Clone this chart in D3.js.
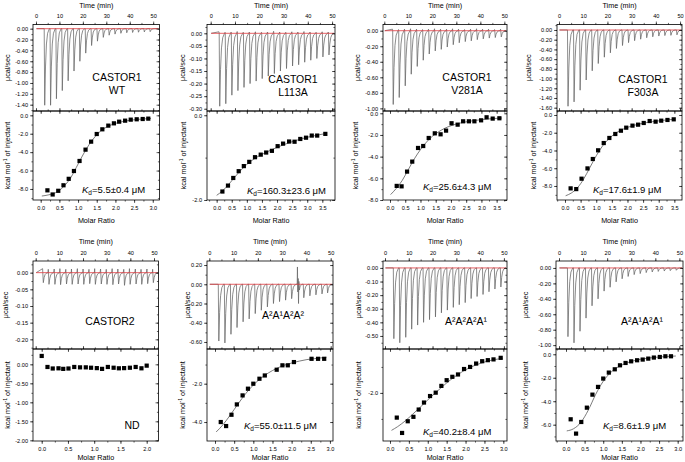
<!DOCTYPE html>
<html><head><meta charset="utf-8">
<script src="https://cdn.jsdelivr.net/npm/d3@7"></script>
<style>body{margin:0;background:#fff}svg{display:block;font-family:"Liberation Sans",Arial,sans-serif}</style>
</head><body><svg id="c" width="685" height="462"></svg>
<script>
// ---------------- DATA ----------------
const timeTicks = [0, 10, 20, 30, 40, 50];
const injTimes = [3.5,6.0,8.5,11.0,13.5,16.0,18.5,21.0,23.5,26.0,28.5,31.0,33.5,36.0,38.5,41.0,43.5,46.0,48.5];
const injTimesC2 = [3.0,5.4,7.9,10.3,12.8,15.2,17.7,20.1,22.6,25.0,27.5,29.9,32.4,34.8,37.3,39.7,42.2,44.6,47.1,49.5];
const injTimesA2A1A2A2 = [3.7,6.2,8.7,11.2,13.7,16.2,18.7,21.2,23.7,26.2,28.7,31.2,33.7,36.2,38.7,41.2,43.7,46.2,48.5];

const panelNames = [["CASTOR1","WT"],["CASTOR1","L113A"],["CASTOR1","V281A"],["CASTOR1","F303A"],["CASTOR2"],["A²A¹A²A²"],["A²A²A²A¹"],["A²A¹A²A¹"]];
const kdTexts = ["=5.5±0.4 μM","=160.3±23.6 μM","=25.6±4.3 μM","=17.6±1.9 μM",null,"=55.0±11.5 μM","=40.2±8.4 μM","=8.6±1.9 μM"];

// raw thermogram peak minima (µcal/sec)
const peaksWT    = [-1.41,-1.41,-1.29,-1.14,-0.96,-0.78,-0.60,-0.45,-0.31,-0.23,-0.16,-0.12,-0.10,-0.085,-0.075,-0.07,-0.065,-0.06,-0.055];
const peaksL113A = [-0.29,-0.28,-0.246,-0.228,-0.215,-0.20,-0.19,-0.18,-0.17,-0.16,-0.15,-0.14,-0.13,-0.125,-0.115,-0.107,-0.10,-0.094,-0.086];
const peaksV281A = [-0.95,-0.86,-0.71,-0.56,-0.46,-0.38,-0.30,-0.26,-0.24,-0.21,-0.18,-0.155,-0.14,-0.13,-0.115,-0.105,-0.095,-0.088,-0.08];
const peaksF303A = [-1.57,-1.48,-1.24,-1.03,-0.84,-0.69,-0.56,-0.47,-0.38,-0.32,-0.26,-0.22,-0.19,-0.16,-0.14,-0.125,-0.115,-0.11,-0.10];
const peaksC2    = [-0.030,-0.035,-0.035,-0.036,-0.034,-0.035,-0.034,-0.035,-0.033,-0.035,-0.034,-0.035,-0.036,-0.034,-0.038,-0.035,-0.034,-0.035,-0.033,-0.030];
const peaksA2A1A2A2 = [-0.59,-0.61,-0.52,-0.45,-0.39,-0.36,-0.305,-0.27,-0.235,-0.20,-0.18,-0.165,-0.15,-0.19,-0.14,-0.12,-0.11,-0.10,-0.09];
const peaksA2A2A2A1 = [-0.52,-0.55,-0.51,-0.45,-0.42,-0.40,-0.38,-0.36,-0.33,-0.31,-0.29,-0.27,-0.255,-0.225,-0.21,-0.195,-0.175,-0.155,-0.14];
const peaksA2A1A2A1 = [-0.89,-0.97,-0.82,-0.65,-0.49,-0.40,-0.30,-0.25,-0.18,-0.14,-0.11,-0.086,-0.073,-0.06,-0.052,-0.045,-0.04,-0.035,-0.03];
// small positive blips at each injection in the noisy traces
const upL113A = [0.006,0.004,0.005,0.007,0.004,0.005,0.006,0.004,0.005,0.008,0.005,0.004,0.006,0.005,0.007,0.005,0.004,0.006,0.005];
const upV281A = [0.02,0.015,0.02,0.025,0.02,0.015,0.02,0.025,0.02,0.02,0.025,0.02,0.015,0.02,0.025,0.02,0.02,0.015,0.02];
const upC2 = [0.012,0.010,0.011,0.012,0.010,0.011,0.012,0.011,0.010,0.012,0.011,0.010,0.012,0.011,0.010,0.012,0.011,0.010,0.011,0.010];
// artefact near injection 14 of A2A1A2A2 (dt min, µcal/sec)
const glitchA2A1A2A2 = [[0,0],[0.1,0.18],[0.25,-0.08],[0.4,0.06],[0.55,-0.2],[0.7,0.03],[0.9,-0.06],[1.2,-0.02],[2.0,0]];

// integrated heats: molar ratio and kcal/mol of injectant
const ratioWT = [0.18,0.32,0.47,0.61,0.75,0.89,1.04,1.20,1.35,1.50,1.65,1.81,1.96,2.10,2.26,2.41,2.57,2.73,2.88];
const heatWT  = [-8.15,-8.6,-8.2,-7.6,-6.9,-6.05,-4.96,-3.73,-2.86,-2.03,-1.52,-1.12,-0.87,-0.69,-0.58,-0.47,-0.43,-0.40,-0.36];
const fitWT = [[0.03,-8.77],[0.2,-8.65],[0.4,-8.4],[0.6,-7.8],[0.8,-6.8],[1.0,-5.3],[1.2,-3.8],[1.4,-2.6],[1.6,-1.72],[1.8,-1.2],[2.0,-0.88],[2.2,-0.67],[2.4,-0.53],[2.6,-0.44],[2.8,-0.38],[2.95,-0.34]];

const ratioL113A = [0.19,0.375,0.55,0.73,0.90,1.08,1.27,1.46,1.64,1.83,2.02,2.20,2.40,2.58,2.77,2.96,3.15,3.33,3.60];
const heatL113A  = [-1.80,-1.66,-1.48,-1.32,-1.20,-1.10,-0.99,-0.93,-0.88,-0.84,-0.73,-0.67,-0.62,-0.625,-0.56,-0.53,-0.48,-0.48,-0.44];
const fitL113A = [[0.0,-1.89],[0.2,-1.78],[0.4,-1.63],[0.6,-1.46],[0.8,-1.30],[1.0,-1.16],[1.2,-1.05],[1.4,-0.96],[1.6,-0.89],[1.8,-0.82],[2.0,-0.76],[2.2,-0.70],[2.4,-0.65],[2.6,-0.60],[2.8,-0.56],[3.0,-0.52],[3.2,-0.49],[3.4,-0.46],[3.63,-0.43]];

const ratioV281A = [0.22,0.38,0.56,0.73,0.92,1.09,1.27,1.47,1.66,1.84,2.02,2.22,2.40,2.59,2.77,2.99,3.17,3.37,3.59];
const heatV281A  = [-6.7,-6.74,-5.38,-4.46,-3.2,-3.02,-2.28,-1.85,-1.94,-1.6,-0.92,-1.05,-0.74,-0.74,-0.74,-0.65,-0.37,-0.49,-0.46];
const fitV281A = [[0.02,-7.5],[0.2,-6.95],[0.4,-6.2],[0.6,-5.2],[0.8,-4.2],[1.0,-3.35],[1.2,-2.65],[1.4,-2.1],[1.6,-1.7],[1.8,-1.38],[2.0,-1.15],[2.2,-0.97],[2.4,-0.84],[2.6,-0.74],[2.8,-0.66],[3.0,-0.59],[3.2,-0.53],[3.4,-0.49],[3.67,-0.44]];

const ratioF303A = [0.18,0.36,0.53,0.72,0.89,1.06,1.24,1.42,1.61,1.79,1.96,2.16,2.34,2.52,2.71,2.90,3.08,3.28,3.48];
const heatF303A  = [-8.27,-8.35,-7.18,-6.02,-4.96,-3.98,-3.16,-2.59,-2.14,-1.77,-1.43,-1.2,-1.09,-0.9,-0.68,-0.75,-0.64,-0.56,-0.49];
const fitF303A = [[0.02,-9.1],[0.2,-8.8],[0.4,-8.2],[0.6,-7.2],[0.8,-5.9],[1.0,-4.6],[1.2,-3.5],[1.4,-2.7],[1.6,-2.1],[1.8,-1.7],[2.0,-1.4],[2.2,-1.17],[2.4,-1.0],[2.6,-0.86],[2.8,-0.75],[3.0,-0.66],[3.2,-0.58],[3.52,-0.47]];

const ratioC2 = [0.0,0.11,0.21,0.32,0.41,0.51,0.62,0.73,0.84,0.94,1.05,1.15,1.26,1.37,1.47,1.57,1.68,1.79,1.90,2.0];
const heatC2  = [0.22,-0.07,-0.11,-0.105,-0.12,-0.11,-0.07,-0.08,-0.08,-0.09,-0.10,-0.12,-0.07,-0.09,-0.105,-0.10,-0.09,-0.07,-0.105,-0.035];

const ratioA2A1A2A2 = [0.15,0.29,0.43,0.57,0.72,0.86,1.0,1.16,1.30,1.61,1.76,1.90,2.06,2.52,2.69,2.85];
const heatA2A1A2A2  = [-4.0,-4.21,-3.62,-3.08,-2.61,-2.26,-2.0,-1.74,-1.57,-1.27,-1.04,-1.04,-0.87,-0.70,-0.70,-0.70];
const fitA2A1A2A2 = [[0.03,-4.52],[0.2,-4.16],[0.4,-3.63],[0.6,-3.06],[0.8,-2.52],[1.0,-2.07],[1.2,-1.71],[1.4,-1.43],[1.6,-1.21],[1.8,-1.04],[2.0,-0.92],[2.2,-0.82],[2.4,-0.74],[2.6,-0.69],[2.91,-0.62]];

const ratioA2A2A2A1 = [0.18,0.32,0.47,0.62,0.76,0.90,1.06,1.21,1.36,1.50,1.65,1.80,1.96,2.12,2.28,2.44,2.59,2.74,2.93];
const heatA2A2A2A1  = [-2.95,-3.54,-3.09,-2.92,-2.64,-2.37,-2.12,-1.99,-1.73,-1.51,-1.38,-1.29,-1.08,-1.0,-0.87,-0.78,-0.74,-0.71,-0.65];
const fitA2A2A2A1 = [[0.04,-3.44],[0.2,-3.3],[0.4,-3.08],[0.6,-2.82],[0.8,-2.55],[1.0,-2.27],[1.2,-2.0],[1.4,-1.74],[1.6,-1.5],[1.8,-1.29],[2.0,-1.11],[2.2,-0.97],[2.4,-0.86],[2.6,-0.77],[2.8,-0.71],[2.98,-0.67]];

const ratioA2A1A2A1 = [0.125,0.27,0.41,0.56,0.71,0.86,1.0,1.15,1.31,1.45,1.6,1.75,1.91,2.06,2.21,2.36,2.52,2.67,2.82];
const heatA2A1A2A1  = [-5.54,-6.76,-5.77,-4.55,-3.44,-2.78,-2.07,-1.56,-1.28,-0.94,-0.74,-0.6,-0.51,-0.45,-0.37,-0.28,-0.23,-0.17,-0.17];
const fitA2A1A2A1 = [[0.02,-6.53],[0.2,-6.35],[0.4,-5.8],[0.6,-4.75],[0.8,-3.4],[1.0,-2.3],[1.2,-1.55],[1.4,-1.08],[1.6,-0.78],[1.8,-0.57],[2.0,-0.43],[2.2,-0.33],[2.4,-0.26],[2.6,-0.21],[2.8,-0.17],[2.95,-0.15]];

// tick values
const rawTicksWT = [0,-0.2,-0.4,-0.6,-0.8,-1.0,-1.2,-1.4];
const rawTicksL113A = [0,-0.05,-0.1,-0.15,-0.2,-0.25,-0.3];
const rawTicksV281A = [0,-0.2,-0.4,-0.6,-0.8,-1.0];
const rawTicksF303A = [0,-0.2,-0.4,-0.6,-0.8,-1.0,-1.2,-1.4,-1.6];
const rawTicksC2 = [0,-0.05,-0.1,-0.15,-0.2];
const rawTicksA2A1A2A2 = [0.2,0,-0.2,-0.4,-0.6];
const rawTicksA2A2A2A1 = [0,-0.1,-0.2,-0.3,-0.4,-0.5];
const rawTicksA2A1A2A1 = [0,-0.2,-0.4,-0.6,-0.8,-1.0];
const heatTicks8 = [0,-2,-4,-6,-8];
const heatTicks2 = [0,-2];
const heatTicksC2 = [0,-0.5,-1.0,-1.5,-2.0];
const heatTicksA2A1A2A2 = [-2,-4];
const heatTicksA2A2A2A1 = [-2];
const heatTicks6 = [0,-2,-4,-6];
const ratioTicks30 = [0,0.5,1.0,1.5,2.0,2.5,3.0];
const ratioTicks35 = [0,0.5,1.0,1.5,2.0,2.5,3.0,3.5];
const ratioTicks20 = [0,0.5,1.0,1.5,2.0];

// ---------------- LAYOUT ----------------
const panels = [
 {t:injTimes, p:peaksWT, r:ratioWT, h:heatWT, fit:fitWT, rt:rawTicksWT, ht:heatTicks8, mt:ratioTicks30, rf:".2f", hf:".1f",
  L:{x0:33,x1:159.5,y0:24.5,yd:111,y1:200,tD:[-1.28,52.7],rD:[-1.516,0.077],mD:[-0.206,3.18],hD:[-9.2,0.47],lab:[117,81],kd:[82,193],yt:[7,7]}},
 {t:injTimes, p:peaksL113A, up:upL113A, r:ratioL113A, h:heatL113A, fit:fitL113A, rt:rawTicksL113A, ht:heatTicks2, mt:ratioTicks35, rf:".2f", hf:".1f",
  L:{x0:207,x1:335,y0:24.5,yd:111,y1:200,tD:[-1.52,51.2],rD:[-0.309,0.035],mD:[-0.32,3.92],hD:[-2.0,0.1],lab:[293,83],kd:[247,194],yt:[182,183]}},
 {t:injTimes, p:peaksV281A, up:upV281A, r:ratioV281A, h:heatV281A, fit:fitV281A, rt:rawTicksV281A, ht:heatTicks8, mt:ratioTicks35, rf:".2f", hf:".1f",
  L:{x0:383,x1:507,y0:24.5,yd:111,y1:200,tD:[-0.54,51.1],rD:[-1.034,0.08],mD:[-0.23,3.84],hD:[-8.0,0.21],lab:[467,81],kd:[423,190],yt:[357,355]}},
 {t:injTimes, p:peaksF303A, r:ratioF303A, h:heatF303A, fit:fitF303A, rt:rawTicksF303A, ht:heatTicks8, mt:ratioTicks35, rf:".2f", hf:".1f",
  L:{x0:557,x1:682,y0:24.5,yd:111,y1:200,tD:[-0.83,50.8],rD:[-1.668,0.113],mD:[-0.256,3.745],hD:[-9.58,0.45],lab:[643,83],kd:[593,193],yt:[528,533]}},
 {t:injTimesC2, p:peaksC2, up:upC2, r:ratioC2, h:heatC2, fit:null, rt:rawTicksC2, ht:heatTicksC2, mt:ratioTicks20, rf:".2f", hf:".2f",
  L:{x0:33,x1:158.5,y0:261,yd:349,y1:441,tD:[-1.14,51.9],rD:[-0.229,0.035],mD:[-0.166,2.225],hD:[-2.018,0.403],lab:[110,325],kd:null,nd:[132,429],yt:[5,7]}},
 {t:injTimesA2A1A2A2, p:peaksA2A1A2A2, glitch:glitchA2A1A2A2, gi:13, r:ratioA2A1A2A2, h:heatA2A1A2A2, fit:fitA2A1A2A2, rt:rawTicksA2A1A2A2, ht:heatTicksA2A1A2A2, mt:ratioTicks30, rf:".2f", hf:".1f",
  L:{x0:207,x1:333,y0:261,yd:349,y1:441,tD:[-0.95,50.95],rD:[-0.673,0.242],mD:[-0.209,3.08],hD:[-4.99,-0.188],lab:[283,319],kd:[244,429],yt:[187,182]}},
 {t:injTimes, p:peaksA2A2A2A1, r:ratioA2A2A2A1, h:heatA2A2A2A1, fit:fitA2A2A2A1, rt:rawTicksA2A2A2A1, ht:heatTicksA2A2A2A1, mt:ratioTicks30, rf:".2f", hf:".1f",
  L:{x0:383,x1:507,y0:261,yd:349,y1:441,tD:[-0.84,51.3],rD:[-0.596,0.051],mD:[-0.185,3.097],hD:[-3.85,-0.31],lab:[466,325],kd:[423,435],yt:[358,358]}},
 {t:injTimes, p:peaksA2A1A2A1, r:ratioA2A1A2A1, h:heatA2A1A2A1, fit:fitA2A1A2A1, rt:rawTicksA2A1A2A1, ht:heatTicks6, mt:ratioTicks30, rf:".2f", hf:".1f",
  L:{x0:556,x1:683,y0:261,yd:349,y1:441,tD:[-1.25,51.5],rD:[-1.05,0.09],mD:[-0.269,3.143],hD:[-7.39,0.45],lab:[642,325],kd:[603,429],yt:[525,525]}}
];

// ---------------- DRAW ----------------
const svg = d3.select("#c");
const TICK_FS = 5.6, TITLE_FS = 7.2, LAB_FS = 10.5, KD_FS = 9.5;
const fmt = f => v => d3.format(f)(Math.abs(v) < 1e-9 ? 0 : v).replace("−", "-");
const spikeShape = [[0,0],[0.22,1],[0.55,0.5],[0.95,0.2],[1.45,0.06],[2.2,0]];

function minors(major, dom) {
  const step = Math.abs(major[1] - major[0]) || 1;
  const lo = Math.min(dom[0], dom[1]), hi = Math.max(dom[0], dom[1]);
  const out = [];
  const start = Math.min(...major) - step * 3;
  for (let v = start; v <= hi + 1e-9; v += step / 2) {
    if (v >= lo && v <= hi) out.push(+v.toFixed(6));
  }
  return out;
}

function axis(g, gen, scale, vals, size, tx, ty, label, f, pad) {
  const a = gen(scale).tickValues(vals).tickSizeInner(size).tickSizeOuter(0).tickPadding(pad || 2);
  a.tickFormat(label ? fmt(f) : () => "");
  const s = g.append("g").attr("transform", `translate(${tx},${ty})`).call(a);
  s.select(".domain").remove();
  s.selectAll("line").attr("stroke", "#000").attr("stroke-width", 0.6);
  s.selectAll("text").attr("font-size", TICK_FS).attr("fill", "#000").attr("font-family", "Liberation Sans, Arial, sans-serif");
  return s;
}

panels.forEach((P, idx) => {
  const L = P.L;
  const g = svg.append("g");
  const xT = d3.scaleLinear().domain(L.tD).range([L.x0, L.x1]);
  const yR = d3.scaleLinear().domain(L.rD).range([L.yd, L.y0]);
  const xM = d3.scaleLinear().domain(L.mD).range([L.x0, L.x1]);
  const yH = d3.scaleLinear().domain(L.hD).range([L.y1, L.yd]);

  const cid = "clip" + idx;
  g.append("clipPath").attr("id", cid).append("rect")
    .attr("x", L.x0).attr("y", L.y0).attr("width", L.x1 - L.x0).attr("height", L.yd - L.y0);

  // raw thermogram
  const pts = [[0.2, 0]];
  P.t.forEach((t, i) => {
    if (P.glitch && i === P.gi) {
      P.glitch.forEach(([dt, v]) => pts.push([t + dt, v]));
      return;
    }
    const h = P.p[i];
    if (P.up) pts.push([t - 0.08, P.up[i]]);
    spikeShape.forEach(([dt, f]) => pts.push([t + dt, h * f]));
  });
  pts.push([L.tD[1] - 0.4, 0]);
  const line = d3.line().x(d => xT(d[0])).y(d => yR(d[1]));
  const cg = g.append("g").attr("clip-path", `url(#${cid})`);
  cg.append("path").attr("d", line(pts)).attr("fill", "none")
    .attr("stroke", "#666").attr("stroke-width", 0.75).attr("stroke-linejoin", "round");
  cg.append("path").attr("d", line([[0.2, 0], [L.tD[1] - 0.4, 0]]))
    .attr("fill", "none").attr("stroke", "#e0393e").attr("stroke-width", 0.8);

  // fit curve
  if (P.fit) {
    g.append("path").attr("d", d3.line().curve(d3.curveMonotoneX).x(d => xM(d[0])).y(d => yH(d[1]))(P.fit))
      .attr("fill", "none").attr("stroke", "#444").attr("stroke-width", 0.7);
  }
  // points
  g.selectAll("rect.pt").data(P.r).enter().append("rect").attr("class", "pt")
    .attr("x", (d) => xM(d) - 2.1).attr("y", (d, i) => yH(P.h[i]) - 2.1)
    .attr("width", 4.2).attr("height", 4.2).attr("fill", "#000");

  // boxes
  g.append("rect").attr("x", L.x0).attr("y", L.y0).attr("width", L.x1 - L.x0).attr("height", L.yd - L.y0)
    .attr("fill", "none").attr("stroke", "#000").attr("stroke-width", 0.8);
  g.append("rect").attr("x", L.x0).attr("y", L.yd).attr("width", L.x1 - L.x0).attr("height", L.y1 - L.yd)
    .attr("fill", "none").attr("stroke", "#000").attr("stroke-width", 0.8);

  // axes: time (labelled axis ticks outward, mirrored ticks inward)
  const tMin = minors(timeTicks, L.tD);
  axis(g, d3.axisTop, xT, timeTicks, 3, 0, L.y0, true, "d", 3.2);
  axis(g, d3.axisTop, xT, tMin, 1.6, 0, L.y0, false);
  axis(g, d3.axisBottom, xT, timeTicks, -3, 0, L.yd, false);
  axis(g, d3.axisBottom, xT, tMin, -1.6, 0, L.yd, false);
  // raw y
  const rMin = minors(P.rt, L.rD);
  axis(g, d3.axisLeft, yR, P.rt, 3, L.x0, 0, true, P.rf, 2);
  axis(g, d3.axisLeft, yR, rMin, 1.6, L.x0, 0, false);
  axis(g, d3.axisRight, yR, P.rt, -3, L.x1, 0, false);
  axis(g, d3.axisRight, yR, rMin, -1.6, L.x1, 0, false);
  // molar ratio
  const mMin = minors(P.mt, L.mD);
  axis(g, d3.axisBottom, xM, P.mt, 3, 0, L.y1, true, ".1f", 3);
  axis(g, d3.axisBottom, xM, mMin, 1.6, 0, L.y1, false);
  axis(g, d3.axisTop, xM, P.mt, -3, 0, L.yd, false);
  axis(g, d3.axisTop, xM, mMin, -1.6, 0, L.yd, false);
  // heat y
  const hMin = minors(P.ht.length > 1 ? P.ht : [P.ht[0], P.ht[0] - 2], L.hD);
  axis(g, d3.axisLeft, yH, P.ht, 3, L.x0, 0, true, P.hf, 2);
  axis(g, d3.axisLeft, yH, hMin, 1.6, L.x0, 0, false);
  axis(g, d3.axisRight, yH, P.ht, -3, L.x1, 0, false);
  axis(g, d3.axisRight, yH, hMin, -1.6, L.x1, 0, false);

  // titles
  const cx = (L.x0 + L.x1) / 2;
  g.append("text").attr("x", cx).attr("y", L.y0 - 17).attr("text-anchor", "middle")
    .attr("font-size", TITLE_FS).text("Time (min)");
  g.append("text").attr("x", cx).attr("y", Math.min(L.y1 + 22.5, 460.3)).attr("text-anchor", "middle")
    .attr("font-size", TITLE_FS).text("Molar Ratio");
  g.append("text").attr("transform", `translate(${L.yt[0] + 2.5},${(L.y0 + L.yd) / 2}) rotate(-90)`)
    .attr("text-anchor", "middle").attr("font-size", TITLE_FS).text("μcal/sec");
  const kt = g.append("text").attr("transform", `translate(${L.yt[1] + 2.5},${(L.yd + L.y1) / 2}) rotate(-90)`)
    .attr("text-anchor", "middle").attr("font-size", TITLE_FS);
  kt.append("tspan").text("kcal mol");
  kt.append("tspan").attr("font-size", TITLE_FS * 0.7).attr("dy", -2.6).text("-1");
  kt.append("tspan").attr("dy", 2.6).text(" of injectant");

  // sample labels
  panelNames[idx].forEach((n, i) => {
    g.append("text").attr("x", L.lab[0]).attr("y", L.lab[1] + i * 12.5).attr("text-anchor", "middle")
      .attr("font-size", LAB_FS).text(n);
  });
  if (kdTexts[idx]) {
    const t = g.append("text").attr("x", L.kd[0]).attr("y", L.kd[1]).attr("font-size", KD_FS);
    t.append("tspan").attr("font-style", "italic").text("K");
    t.append("tspan").attr("font-size", KD_FS * 0.68).attr("dy", 2.4).text("d");
    t.append("tspan").attr("dy", -2.4).text(kdTexts[idx]);
  }
  if (L.nd) {
    g.append("text").attr("x", L.nd[0]).attr("y", L.nd[1]).attr("text-anchor", "middle")
      .attr("font-size", LAB_FS).text("ND");
  }
});
</script></body></html>
